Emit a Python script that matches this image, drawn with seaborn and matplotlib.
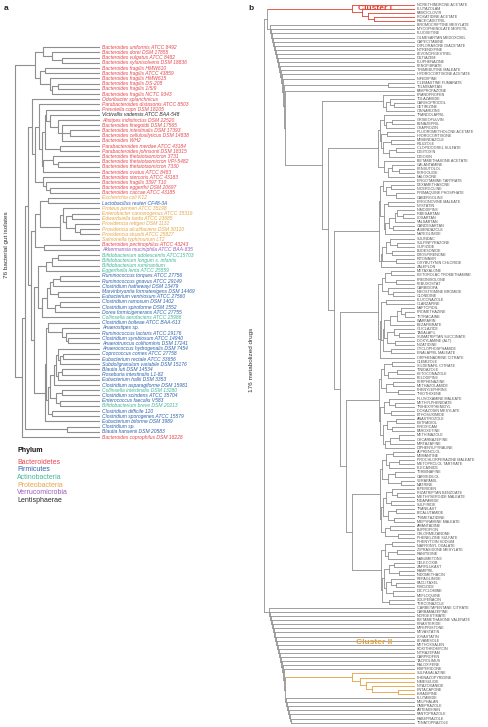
import matplotlib
matplotlib.use("Agg")
import pandas as pd
import seaborn as sns
import matplotlib.pyplot as plt

sns.set_theme(style="white")
plt.rcParams["font.family"] = ["Liberation Sans", "DejaVu Sans"]

# ---------------- panel a: bacterial isolates ----------------
bacteria = [
    "Bacteroides uniformis ATCC 8492", "Bacteroides dorei DSM 17855", "Bacteroides vulgatus ATCC 8482",
    "Bacteroides xylanisolvens DSM 18836", "Bacteroides fragilis HMW610", "Bacteroides fragilis ATCC 43859",
    "Bacteroides fragilis HMW615", "Bacteroides fragilis DS-208", "Bacteroides fragilis 1/5/9",
    "Bacteroides fragilis NCTC 9343", "Odoribacter splanchnicus", "Parabacteroides distasonis ATCC 8503",
    "Prevotella copri DSM 18205", "Victivallis vadensis ATCC BAA-548", "Alistipes indistinctus DSM 22520",
    "Bacteroides finegoldii DSM 17565", "Bacteroides intestinalis DSM 17393",
    "Bacteroides cellulosilyticus DSM 14838", "Bacteroides WH2", "Parabacteroides merdae ATCC 43184",
    "Parabacteroides johnsonii DSM 18315", "Bacteroides thetaiotaomicron 3731",
    "Bacteroides thetaiotaomicron VPI-5482", "Bacteroides thetaiotaomicron 7330",
    "Bacteroides ovatus ATCC 8483", "Bacteroides stercoris ATCC 43183", "Bacteroides fragilis 3397 T10",
    "Bacteroides eggerthii DSM 20697", "Bacteroides caccae ATCC 43185", "Escherichia coli K12",
    "Lactobacillus reuteri CF48-3A", "Proteus penneri ATCC 35198", "Enterobacter cancerogenus ATCC 35316",
    "Edwardsiella tarda ATCC 23685", "Providencia rettgeri DSM 1131", "Providencia alcalifaciens DSM 30120",
    "Providencia stuartii ATCC 25827", "Salmonella typhimurium LT2", "Bacteroides pectinophilus ATCC 43243",
    "Akkermansia muciniphila ATCC BAA-835", "Bifidobacterium adolescentis ATCC15703",
    "Bifidobacterium longum s. infantis", "Bifidobacterium ruminantium", "Eggerthella lenta ATCC 25559",
    "Ruminococcus torques ATCC 27756", "Ruminococcus gnavus ATCC 29149", "Clostridium hathewayi DSM 13479",
    "Marvinbryantia formatexigens DSM 14469", "Eubacterium ventriosum ATCC 27560",
    "Clostridium ramosum DSM 1402", "Clostridium spiroforme DSM 1552", "Dorea formicigenerans ATCC 27755",
    "Collinsella aerofaciens ATCC 25986", "Clostridium bolteae ATCC BAA-613", "Anaerostipes sp.",
    "Ruminococcus lactaris ATCC 29176", "Clostridium symbiosum ATCC 14940",
    "Anaerotruncus colihominis DSM 17241", "Anaerococcus hydrogenalis DSM 7454",
    "Coprococcus comes ATCC 27758", "Eubacterium rectale ATCC 33656", "Subdoligranulum variabile DSM 15176",
    "Blautia luti DSM 14534", "Roseburia intestinalis L1-82", "Eubacterium hallii DSM 3353",
    "Clostridium asparagiforme DSM 15981", "Collinsella intestinalis DSM 13280",
    "Clostridium scindens ATCC 35704", "Enterococcus faecalis V583", "Bifidobacterium breve DSM 20213",
    "Clostridium difficile 120", "Clostridium sporogenes ATCC 15579", "Eubacterium biforme DSM 3989",
    "Clostridium sp.", "Blautia hansenii DSM 20583", "Bacteroides coprophilus DSM 18228",
]
bacteria_phylum = list(
    "BBBBBBBBBBBBBLBBBBBBBBBBBBBBB" + "PF" + "PPPPPPP" + "BV" + "AAAA" + "FFFFFFFF" + "A"
    + "FFFFFFFFFFFFF" + "A" + "FF" + "A" + "FFFFF" + "B"
)
phyla = ["Bacteroidetes", "Firmicutes", "Actinobacteria", "Proteobacteria", "Verrucomicrobia", "Lentisphaerae"]
phylum_codes = ["B", "F", "A", "P", "V", "L"]
phylum_colours = ["#e8464d", "#2d62ad", "#3fb796", "#e5a446", "#9d5bbf", "#2b2b2b"]

# merge distance between neighbouring leaves (leaf = 0)
bacteria_merge = [
    57, 48, 38, 65, 55, 60, 50, 42, 48, 85, 68, 61, 54, 50, 42, 38, 30, 38, 55, 40,
    58, 47, 42, 57, 65, 57, 54, 50, 72, 52, 60, 37, 28, 34, 25, 20, 40, 65, 56, 69,
    42, 48, 54, 62, 40, 47, 50, 42, 53, 40, 45, 58, 66, 52, 38, 34, 32, 54, 42, 37,
    40, 44, 38, 42, 46, 50, 38, 44, 40, 52, 48, 55, 75, 33, 78,
]

# ---------------- panel b: metabolized drugs ----------------
drugs = [
    "NORETHINDRONE ACETATE", "FLUTAZOLAM", "FAMCICLOVIR", "ROXATIDINE ACETATE", "RACECADOTRIL",
    "BROMOCRIPTINE MESYLATE", "MYCOPHENOLATE MOFETIL", "FLUOXETINE", "OLMESARTAN MEDOXOMIL",
    "CAPECITABINE", "DIFLORASONE DIACETATE", "NITRENDIPINE", "LEVONORGESTREL", "DILTIAZEM",
    "FLUPHENAZINE", "FENOFIBRATE", "TRIMEBUTINE MALEATE", "HYDROCORTISONE ACETATE", "NIFEDIPINE",
    "CLEMASTINE FUMARATE", "TELMISARTAN", "FAMPROFAZONE", "PRANOPROFEN", "TOLAZAMIDE", "CARISOPRODOL",
    "CETIRIZINE", "CINNARIZINE", "TRANDOLAPRIL", "GRISEOFULVIN", "BENAZEPRIL", "OXAPROZIN",
    "FLUOROMETHOLONE ACETATE", "HYDROCORTISONE", "MEBENDAZOLE", "RILUZOLE", "CLOPIDOGREL SULFATE",
    "DIGITOXIN", "DIGOXIN", "BETAMETHASONE ACETATE", "GALANTAMINE", "PENBUTOLOL", "PERGOLIDE",
    "NALOXONE", "ERGOTAMINE TARTRATE", "DEXAMETHASONE", "NICERGOLINE", "PRIMAQUINE PHOSPHATE",
    "CABERGOLINE", "ERGONOVINE MALEATE", "NYSTATIN", "NIMODIPINE", "IRBESARTAN", "LOSARTAN",
    "VALSARTAN", "CANDESARTAN", "ALBENDAZOLE", "NATEGLINIDE", "SULINDAC", "SULFINPYRAZONE",
    "GLIPIZIDE", "BUDESONIDE", "DROSPIRENONE", "RITONAVIR", "OXYBUTYNIN CHLORIDE", "ZALEPLON",
    "METAXALONE", "KETOROLAC TROMETHAMINE", "PREDNISOLONE", "FEBUXOSTAT", "CARBIDOPA",
    "NEOSTIGMINE BROMIDE", "CLONIDINE", "FLUCONAZOLE", "OLANZAPINE", "NAFTOPIDIL", "PROMETHAZINE",
    "TETRACAINE", "WARFARIN", "BEZAFIBRATE", "GLICLAZIDE", "TADALAFIL", "SUMATRIPTAN SUCCINATE",
    "DOXYLAMINE (ALT)", "NIZATIDINE", "CYCLOPHOSPHAMIDE", "ENALAPRIL MALEATE", "ORPHENADRINE CITRATE",
    "CLEMIZOLE", "SILDENAFIL CITRATE", "TINIDAZOLE", "KETOCONAZOLE", "FELODIPINE", "PERPHENAZINE",
    "METHAZOLAMIDE", "PHENYLEPHRINE", "THIOTHIXENE", "FLUVOXAMINE MALEATE", "METHYLPHENIDATE",
    "TRIHEXYPHENIDYL", "DOXAZOSIN MESYLATE", "ETHOSUXIMIDE", "ANASTROZOLE", "ESTRADIOL", "PIROXICAM",
    "PAROXETINE", "METHIMAZOLE", "OXCARBAZEPINE", "MIRTAZAPINE", "DIPHENYLPYRALINE", "ALPRENOLOL",
    "MEMANTINE", "PROCHLORPERAZINE MALEATE", "METOPROLOL TARTRATE", "FLECAINIDE", "TERBINAFINE",
    "CARVEDILOL", "VERAPAMIL", "MATRINE", "BIPERIDEN", "RIZATRIPTAN BENZOATE", "METHYSERGIDE MALEATE",
    "INDAPAMIDE", "SULPIRIDE", "TRANILAST", "BICALUTAMIDE", "TRIMETAZIDINE", "MEPYRAMINE MALEATE",
    "AMANTADINE", "BUPROPION", "CHLORMEZANONE", "PHENELZINE SULFATE", "PHENYTOIN SODIUM",
    "NAFRONYL OXALATE", "ZIPRASIDONE MESYLATE", "RANITIDINE", "NABUMETONE", "CELECOXIB",
    "ZAFIRLUKAST", "RAMIPRIL", "INDOMETHACIN", "REPAGLINIDE", "PACLITAXEL", "PIMOZIDE",
    "DICYCLOMINE", "MEFLOQUINE", "SOLIFENACIN", "TERCONAZOLE", "CARBETAPENTANE CITRATE",
    "CARBAMAZEPINE", "NORGESTIMATE", "BETAMETHASONE VALERATE", "FINASTERIDE", "MIFEPRISTONE",
    "MEVASTATIN", "LOVASTATIN", "LEVAMISOLE", "METHOXSALEN", "ROXITHROMYCIN", "NITRAZEPAM",
    "CARPROFEN", "TACROLIMUS", "RALOXIFENE", "RISPERIDONE", "SULFASALAZINE", "PHENAZOPYRIDINE",
    "NIMESULIDE", "NITAZOXANIDE", "ENTACAPONE", "ISRADIPINE", "FLUTAMIDE", "MELPHALAN",
    "OMEPRAZOLE", "ARTEMISININ", "PANTOPRAZOLE", "RABEPRAZOLE", "TENATOPRAZOLE",
]
drug_merge = [
    63, 53, 47, 41, 148,
    145, 144, 143, 142, 141, 140, 139, 138, 137, 136, 135, 134, 133, 132, 27, 131, 130,
    32, 25, 21, 29, 93,
    31, 23, 29, 35, 28, 34, 24, 32, 19, 26, 37, 31, 23, 16, 27, 87,
    32, 24, 29, 19, 35, 27, 31, 18, 12, 20, 26, 22, 30, 36, 25, 18, 29, 23, 33, 19, 34, 81,
    24, 30, 19, 33, 27, 22, 37, 29, 34, 14, 10, 18, 25, 31, 21, 16, 28, 20, 32, 24, 35, 75,
    23, 31, 18, 27, 34, 22, 29, 17, 36, 26, 20, 31, 24, 35, 19, 28, 23, 32, 16, 25, 30, 69,
    22, 29, 16, 26, 33, 20, 27, 14, 35, 23, 18, 29, 24, 32, 19, 27, 21, 34, 25, 30, 17, 63,
    23, 30, 18, 27, 34, 21, 26, 16, 31, 24, 19, 29, 22, 33, 26, 151,
    146, 145, 144, 143, 142, 141, 140, 139, 138, 137, 136, 135, 134, 133, 132, 131,
    63, 55, 49, 43, 17, 130, 129, 128, 127, 126, 125, 124,
]
cluster_names = ["Cluster I", "Cluster II"]
cluster_first = [0, 163]
cluster_last = [4, 168]
cluster_colours = ["#e4402f", "#e3a13d"]

LINE = "#8f8f8f"


def build(merge, lo, hi, segs, colour_of):
    if lo == hi:
        return 0.0, float(lo)
    top = max(merge[lo:hi])
    cuts = [i for i in range(lo, hi) if merge[i] == top]
    starts = [lo] + [c + 1 for c in cuts]
    stops = cuts + [hi]
    kids = [build(merge, a, b, segs, colour_of) for a, b in zip(starts, stops)]
    for a, b, (h, y) in zip(starts, stops, kids):
        segs.append((h, y, top, y, colour_of(a, b)))
    segs.append((top, kids[0][1], top, kids[-1][1], colour_of(lo, hi)))
    return top, (kids[0][1] + kids[-1][1]) / 2


def tree_frame(merge, colour_of):
    segs = []
    build(merge, 0, len(merge), segs, colour_of)
    rows = []
    for k, (x0, y0, x1, y1, c) in enumerate(segs):
        rows.append({"seg": k, "x": x0, "y": y0, "colour": c})
        rows.append({"seg": k, "x": x1, "y": y1, "colour": c})
    return pd.DataFrame(rows)


def drug_colour(a, b):
    for first, last, col in zip(cluster_first, cluster_last, cluster_colours):
        if first <= a and b <= last:
            return col
    return LINE


W, H = 488, 727
fig = plt.figure(figsize=(W / 100, H / 100), dpi=100)


def px_axes(x0, x1, y0, y1):
    return fig.add_axes([x0 / W, 1 - y1 / H, (x1 - x0) / W, (y1 - y0) / H])


# panel a tree
ax_a = px_axes(0, 100, 44.7, 439.6)
df_a = tree_frame(bacteria_merge, lambda a, b: LINE)
sns.lineplot(data=df_a, x="x", y="y", units="seg", estimator=None, sort=False,
             color=LINE, linewidth=0.8, legend=False, ax=ax_a)
ax_a.set_xlim(100, 0)
ax_a.set_ylim(len(bacteria) - 0.5, -0.5)
ax_a.axis("off")
code_colour = dict(zip(phylum_codes, phylum_colours))
for i, (name, ph) in enumerate(zip(bacteria, bacteria_phylum)):
    ax_a.text(-1.8, i, name, ha="left", va="center", fontsize=3.6, style="italic",
              color=code_colour[ph])

# panel b tree
ax_b = px_axes(255, 415, 2.65, 724.75)
df_b = tree_frame(drug_merge, drug_colour)
pal = {c: c for c in df_b["colour"].unique()}
sns.lineplot(data=df_b, x="x", y="y", units="seg", estimator=None, sort=False,
             hue="colour", palette=pal, linewidth=0.6, legend=False, ax=ax_b)
ax_b.set_xlim(160, 0)
ax_b.set_ylim(len(drugs) - 0.5, -0.5)
ax_b.axis("off")
for i, name in enumerate(drugs):
    ax_b.text(-1.5, i, name, ha="left", va="center", fontsize=2.7, color="#555555")

# annotations
def ftext(x, y, s, **kw):
    fig.text(x / W, 1 - y / H, s, **kw)


ftext(4, 9, "a", fontsize=6, fontweight="bold", va="center")
ftext(248, 9, "b", fontsize=6, fontweight="bold", va="center")
ftext(7, 245, "76 bacterial gut isolates", rotation=90, fontsize=4.6, ha="center", va="center",
      color="#333333")
ftext(252, 360, "176 metabolized drugs", rotation=90, fontsize=4.6, ha="center", va="center",
      color="#333333")
ftext(358, 8, cluster_names[0], fontsize=6, color=cluster_colours[0], va="center", fontweight="bold")
ftext(356, 643, cluster_names[1], fontsize=6, color=cluster_colours[1], va="center", fontweight="bold")

ftext(17, 451, "Phylum", fontsize=5, fontweight="bold", va="center", color="#111111")
for k, (name, col) in enumerate(zip(phyla, phylum_colours)):
    ftext(17, 462 + 7.7 * k, name, fontsize=5, va="center", color=col)

fig.savefig("out.png", dpi=100)
